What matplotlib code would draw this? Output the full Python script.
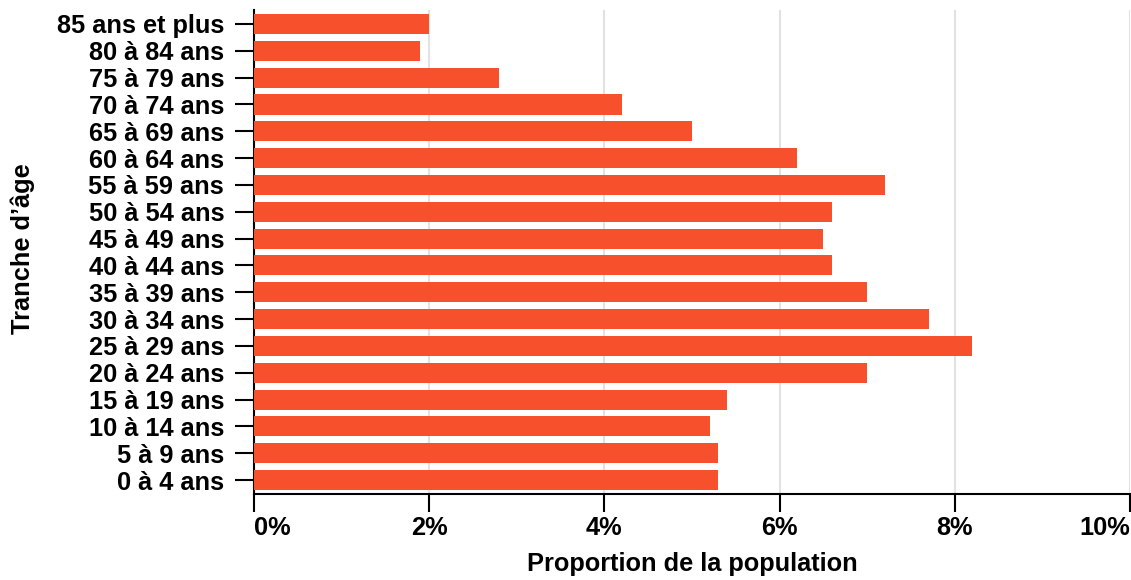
import numpy as np
import matplotlib.pyplot as plt
from matplotlib.ticker import FuncFormatter

plt.rcParams["font.family"] = ["Liberation Sans", "DejaVu Sans"]
plt.rcParams["font.weight"] = "bold"

# ===================== données =====================
tranches = ["0 à 4 ans", "5 à 9 ans", "10 à 14 ans", "15 à 19 ans", "20 à 24 ans",
            "25 à 29 ans", "30 à 34 ans", "35 à 39 ans", "40 à 44 ans", "45 à 49 ans",
            "50 à 54 ans", "55 à 59 ans", "60 à 64 ans", "65 à 69 ans", "70 à 74 ans",
            "75 à 79 ans", "80 à 84 ans", "85 ans et plus"]
proportion = [5.3, 5.3, 5.2, 5.4, 7.0,
              8.2, 7.7, 7.0, 6.6, 6.5,
              6.6, 7.2, 6.2, 5.0, 4.2,
              2.8, 1.9, 2.0]
x_ticks = [0, 2, 4, 6, 8, 10]

# ===================== figure =====================
W, H = 1131, 580
fig = plt.figure(figsize=(W / 100, H / 100), dpi=100)
ax = fig.add_axes([254 / W, 1 - 494 / H, 876 / W, 484 / H])

y = np.arange(len(tranches))
ax.barh(y, proportion, height=0.75, color="#f7502d", zorder=3)

ax.set_xlim(0, 10)
ax.set_ylim(-0.52, len(tranches) - 0.48)
ax.set_xticks(x_ticks)
ax.xaxis.set_major_formatter(FuncFormatter(lambda v, p: f"{v:.0f}%"))
ax.set_yticks(y)
ax.set_yticklabels(tranches)

ax.grid(axis="x", color="#e2e2e2", linewidth=1.5, zorder=0)
ax.set_axisbelow(True)
for s in ["top", "right"]:
    ax.spines[s].set_visible(False)
for s in ["left", "bottom"]:
    ax.spines[s].set_linewidth(1.5)

fs = 18.3
ax.tick_params(axis="y", length=13.5, width=1.5, pad=8, labelsize=fs)
ax.tick_params(axis="x", length=13, width=1.5, pad=3, labelsize=fs)
for lab in ax.get_xticklabels() + ax.get_yticklabels():
    lab.set_fontweight("bold")
# premier et dernier libellés décalés pour rester dans le cadre
xlabs = ax.get_xticklabels()
xlabs[0].set_horizontalalignment("left")
xlabs[-1].set_horizontalalignment("right")

# titres des axes
fig.text(692 / W, 1 - 564 / H, "Proportion de la population", fontsize=fs,
         fontweight="bold", ha="center", va="center")
fig.text(23 / W, 1 - 249 / H, "Tranche d’âge", fontsize=fs, fontweight="bold",
         ha="center", va="center", rotation=90)

fig.savefig("out.png", dpi=100)
